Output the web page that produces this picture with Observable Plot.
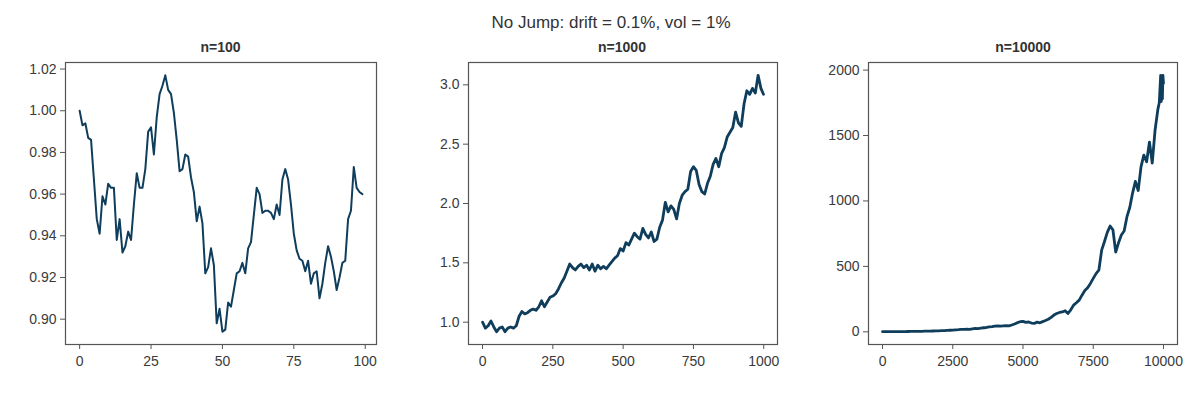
<!DOCTYPE html>
<html><head><meta charset="utf-8">
<script src="https://cdn.jsdelivr.net/npm/d3@7"></script>
<script src="https://cdn.jsdelivr.net/npm/@observablehq/plot@0.6"></script>
<style>
body{margin:0;background:#fff;font-family:"Liberation Sans",Arial,sans-serif;}
#fig{position:relative;width:1200px;height:396px;overflow:hidden;background:#fff;}
.t{position:absolute;color:#333;white-space:nowrap;transform:translate(-50%,-50%);line-height:1;}
.panel{position:absolute;top:0;}
</style></head><body><div id="fig"></div><script>
const mainTitle = "No Jump: drift = 0.1%, vol = 1%";
const panelTitles = ["n=100", "n=1000", "n=10000"];

// Panel 1: n=100
const steps100 = [0,1,2,3,4,5,6,7,8,9,10,11,12,13,14,15,16,17,18,19,20,21,22,23,24,25,26,27,28,29,30,31,32,33,34,35,36,37,38,39,40,41,42,43,44,45,46,47,48,49,50,51,52,53,54,55,56,57,58,59,60,61,62,63,64,65,66,67,68,69,70,71,72,73,74,75,76,77,78,79,80,81,82,83,84,85,86,87,88,89,90,91,92,93,94,95,96,97,98,99];
const price100 = [
 1.000,0.993,0.994,0.987,0.986,0.967,0.948,0.941,0.959,0.955,
 0.965,0.963,0.963,0.938,0.948,0.932,0.935,0.942,0.938,0.955,
 0.970,0.963,0.963,0.972,0.990,0.992,0.979,0.997,1.008,1.012,
 1.017,1.010,1.008,0.999,0.986,0.971,0.972,0.979,0.978,0.968,
 0.961,0.947,0.954,0.946,0.922,0.925,0.934,0.926,0.898,0.905,
 0.894,0.895,0.908,0.906,0.914,0.922,0.923,0.927,0.922,0.934,
 0.937,0.950,0.963,0.960,0.951,0.952,0.952,0.951,0.948,0.955,
 0.950,0.967,0.972,0.967,0.955,0.941,0.933,0.929,0.928,0.923,
 0.928,0.917,0.922,0.923,0.910,0.917,0.927,0.935,0.930,0.923,
 0.914,0.920,0.927,0.928,0.948,0.952,0.973,0.963,0.961,0.960];

// Panel 2: n=1000 (read every ~10 steps)
const steps1000 = [0,10,20,30,40,50,60,70,80,90,100,110,120,130,140,150,160,170,180,190,200,210,220,230,240,250,260,270,280,290,300,310,320,330,340,350,360,370,380,390,400,410,420,430,440,450,460,470,480,490,500,510,520,530,540,550,560,570,580,590,600,610,620,630,640,650,660,670,680,690,700,710,720,730,740,750,760,770,780,790,800,810,820,830,840,850,860,870,880,890,900,910,920,930,940,950,960,970,980,990,999];
const price1000 = [
 1.00,0.95,0.97,1.01,0.96,0.92,0.95,0.96,0.92,0.95,
 0.96,0.95,0.97,1.05,1.09,1.07,1.08,1.10,1.11,1.10,
 1.13,1.18,1.13,1.17,1.21,1.22,1.24,1.28,1.33,1.37,
 1.43,1.49,1.46,1.44,1.47,1.49,1.46,1.48,1.44,1.49,
 1.43,1.48,1.45,1.47,1.45,1.48,1.51,1.54,1.56,1.62,
 1.60,1.67,1.65,1.70,1.75,1.72,1.70,1.79,1.74,1.71,
 1.76,1.68,1.70,1.80,1.86,2.01,1.93,1.98,1.95,1.87,
 2.00,2.07,2.10,2.12,2.27,2.31,2.28,2.16,2.10,2.08,
 2.17,2.23,2.33,2.38,2.31,2.42,2.47,2.56,2.60,2.64,
 2.77,2.68,2.65,2.84,2.95,2.92,2.97,2.93,3.08,2.97,2.92];

// Panel 3: n=10000 (read every ~100 steps)
const steps10000 = [0,100,200,300,400,500,600,700,800,900,1000,1100,1200,1300,1400,1500,1600,1700,1800,1900,2000,2100,2200,2300,2400,2500,2600,2700,2800,2900,3000,3100,3200,3300,3400,3500,3600,3700,3800,3900,4000,4100,4200,4300,4400,4500,4600,4700,4800,4900,5000,5100,5200,5300,5400,5500,5600,5700,5800,5900,6000,6100,6200,6300,6400,6500,6600,6700,6800,6900,7000,7100,7200,7300,7400,7500,7600,7700,7800,7900,8000,8100,8200,8300,8400,8500,8600,8700,8800,8900,9000,9100,9200,9300,9400,9500,9600,9700,9800,9850,9900,9920,9940,9960,9980,9999];
const price10000 = [
 1.0,1.1,1.2,1.3,1.5,1.6,1.8,2.0,2.2,2.4,
 2.6,2.9,3.2,3.6,4.0,4.5,5.0,5.6,6.2,6.9,
 7.7,8.6,9.5,10.5,11.8,13,14.5,16,18,19,
 20,19,23,26,25,28,31,33,37,40,
 44,46,43,45,47,46,52,60,70,77,
 80,72,75,67,64,74,69,78,86,96,
 110,128,140,148,152,161,140,168,204,222,
 242,280,315,336,370,408,445,471,624,690,
 760,808,780,610,680,740,770,880,950,1060,
 1150,1080,1260,1350,1300,1450,1290,1540,1700,1750,
 1960,1760,1950,1780,1960,1900];

const lineColor = "#0f3d5c";
const fig = document.getElementById("fig");

function pad(ext){ const r = ext[1]-ext[0]; return [ext[0]-0.05*r, ext[1]+0.05*r]; }

function panel(xs, ys, o){
  const data = xs.map((x,i)=>({x, y: ys[i]}));
  const p = Plot.plot({
    width: 400, height: 396,
    marginLeft: o.ml, marginRight: o.mr, marginTop: 62, marginBottom: 52,
    style: {fontFamily: '"Liberation Sans", Arial, sans-serif', fontSize: "14px", color: "#333", background: "transparent"},
    x: {domain: pad(d3.extent(xs)), label: null},
    y: {domain: pad(d3.extent(ys)), label: null},
    marks: [
      Plot.axisX({ticks: o.xt, tickFormat: d3.format("d"), tickSize: 5, tickPadding: 7, stroke: "#555", fill: "#3a3a3a", fontSize: 14, label: null}),
      Plot.axisY({ticks: o.yt, tickFormat: d3.format(o.yf), tickSize: 5, tickPadding: 4, stroke: "#555", fill: "#3a3a3a", fontSize: 14, label: null}),
      Plot.line(data, {x: "x", y: "y", stroke: lineColor, strokeWidth: o.sw, strokeLinejoin: "round"}),
      Plot.frame({stroke: "#555", strokeWidth: 1.2})
    ]
  });
  const d = document.createElement("div");
  d.className = "panel"; d.style.left = o.left + "px";
  d.appendChild(p); fig.appendChild(d);
}

panel(steps100, price100, {left: 0, ml: 65, mr: 24, xt: [0,25,50,75,100], yt: [0.90,0.92,0.94,0.96,0.98,1.00,1.02], yf: ".2f", sw: 2.0});
panel(steps1000, price1000, {left: 400, ml: 68, mr: 23, xt: [0,250,500,750,1000], yt: [1.0,1.5,2.0,2.5,3.0], yf: ".1f", sw: 2.8});
panel(steps10000, price10000, {left: 800, ml: 68, mr: 23, xt: [0,2500,5000,7500,10000], yt: [0,500,1000,1500,2000], yf: "d", sw: 2.8});

function label(text, x, y, size, bold){
  const d = document.createElement("div");
  d.className = "t"; d.textContent = text;
  d.style.left = x + "px"; d.style.top = y + "px";
  d.style.fontSize = size + "px"; if (bold) d.style.fontWeight = "bold";
  fig.appendChild(d);
}
label(mainTitle, 611, 22, 17, false);
label(panelTitles[0], 220.5, 46.5, 14, true);
label(panelTitles[1], 622, 46.5, 14, true);
label(panelTitles[2], 1023, 46.5, 14, true);
</script></body></html>
